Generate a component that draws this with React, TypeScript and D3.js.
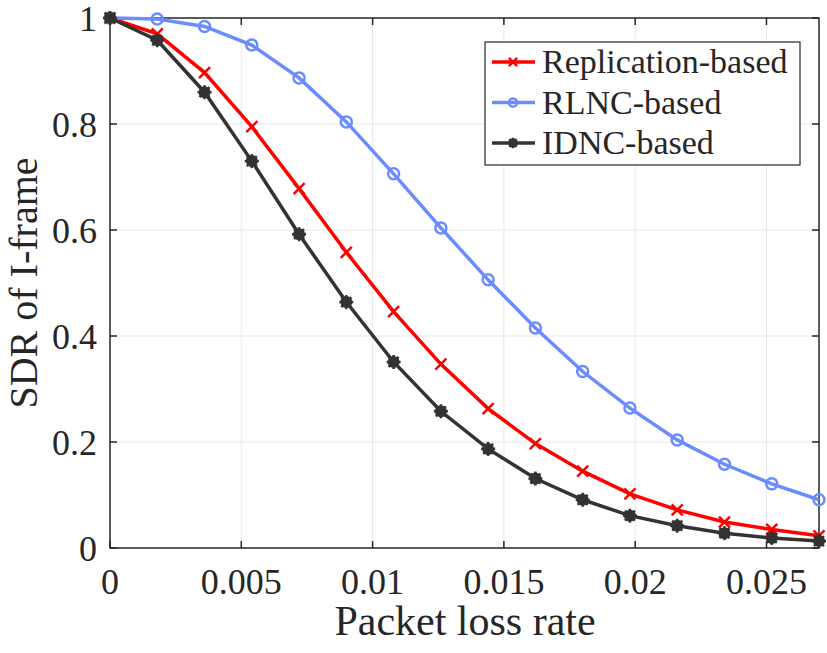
import React from "react";
import * as d3 from "d3";

const xValues = [0, 0.0018, 0.0036, 0.0054, 0.0072, 0.009, 0.0108, 0.0126, 0.0144, 0.0162, 0.018, 0.0198, 0.0216, 0.0234, 0.0252, 0.027];
const replication = [1, 0.970, 0.897, 0.795, 0.678, 0.558, 0.446, 0.347, 0.263, 0.197, 0.145, 0.102, 0.072, 0.049, 0.035, 0.023];
const rlnc = [1, 0.998, 0.984, 0.949, 0.887, 0.804, 0.706, 0.604, 0.506, 0.415, 0.333, 0.264, 0.204, 0.158, 0.121, 0.091];
const idnc = [1, 0.958, 0.860, 0.730, 0.592, 0.464, 0.351, 0.258, 0.187, 0.131, 0.091, 0.061, 0.042, 0.028, 0.019, 0.013];
const xTicks = [0, 0.005, 0.01, 0.015, 0.02, 0.025];
const xTickLabels = ["0", "0.005", "0.01", "0.015", "0.02", "0.025"];
const yTicks = [0, 0.2, 0.4, 0.6, 0.8, 1];
const yTickLabels = ["0", "0.2", "0.4", "0.6", "0.8", "1"];
const seriesNames = ["Replication-based", "RLNC-based", "IDNC-based"];

const W = 827, H = 653;
const L = 110, R = 819, T = 18, B = 548;
const FONT = "Liberation Serif, Times New Roman, serif";
const RED = "#ff0000", BLUE = "#6a8cff", BLACK = "#333333", AX = "#262626";

function Marker({ kind, x, y, color, s = 1 }: { kind: string; x: number; y: number; color: string; s?: number }) {
  if (kind === "x") {
    const h = 5.5 * s;
    return (
      <g stroke={color} strokeWidth={2.5}>
        <line x1={x - h} y1={y - h} x2={x + h} y2={y + h} />
        <line x1={x - h} y1={y + h} x2={x + h} y2={y - h} />
      </g>
    );
  }
  if (kind === "o") {
    return <circle cx={x} cy={y} r={5.5 * s} fill="none" stroke={color} strokeWidth={2.5} />;
  }
  const a = 7 * s, b = 5 * s;
  return (
    <g>
      <circle cx={x} cy={y} r={6 * s} fill={color} />
      <g stroke={color} strokeWidth={2.5}>
        <line x1={x - a} y1={y} x2={x + a} y2={y} />
        <line x1={x} y1={y - a} x2={x} y2={y + a} />
        <line x1={x - b} y1={y - b} x2={x + b} y2={y + b} />
        <line x1={x - b} y1={y + b} x2={x + b} y2={y - b} />
      </g>
    </g>
  );
}

export default function App() {
  const xs = d3.scaleLinear().domain([0, 0.027]).range([L, R]);
  const ys = d3.scaleLinear().domain([0, 1]).range([B, T]);
  const line = d3.line<number>().x((_, i) => xs(xValues[i])).y((d) => ys(d));
  const series = [
    { name: seriesNames[0], data: replication, color: RED, kind: "x" },
    { name: seriesNames[1], data: rlnc, color: BLUE, kind: "o" },
    { name: seriesNames[2], data: idnc, color: BLACK, kind: "*" },
  ];
  const lgX = 485, lgY = 42, lgW = 315, lgH = 123;
  return (
    <svg width={W} height={H} style={{ position: "absolute", left: 0, top: 0, background: "#fff", fontFamily: FONT }}>
      <rect x={0} y={0} width={W} height={H} fill="#fff" />
      {xTicks.slice(1).map((t) => (
        <line key={"gx" + t} x1={xs(t)} x2={xs(t)} y1={T} y2={B} stroke="#e8e8e8" strokeWidth={1} />
      ))}
      {yTicks.slice(1, -1).map((t) => (
        <line key={"gy" + t} x1={L} x2={R} y1={ys(t)} y2={ys(t)} stroke="#e8e8e8" strokeWidth={1} />
      ))}
      <rect x={L} y={T} width={R - L} height={B - T} fill="none" stroke={AX} strokeWidth={1.5} />
      {xTicks.map((t) => (
        <g key={"tx" + t}>
          <line x1={xs(t)} x2={xs(t)} y1={B} y2={B - 7} stroke={AX} strokeWidth={1.5} />
          <line x1={xs(t)} x2={xs(t)} y1={T} y2={T + 7} stroke={AX} strokeWidth={1.5} />
        </g>
      ))}
      {yTicks.map((t) => (
        <g key={"ty" + t}>
          <line x1={L} x2={L + 7} y1={ys(t)} y2={ys(t)} stroke={AX} strokeWidth={1.5} />
          <line x1={R} x2={R - 7} y1={ys(t)} y2={ys(t)} stroke={AX} strokeWidth={1.5} />
        </g>
      ))}
      {xTicks.map((t, i) => (
        <text key={"lx" + t} x={xs(t)} y={594} textAnchor="middle" fontSize={36} fill={AX} style={{ fontFamily: FONT }}>
          {xTickLabels[i]}
        </text>
      ))}
      {yTicks.map((t, i) => (
        <text key={"ly" + t} x={L - 13} y={ys(t) + 13} textAnchor="end" fontSize={36} fill={AX} style={{ fontFamily: FONT }}>
          {yTickLabels[i]}
        </text>
      ))}
      <text x={465} y={635} textAnchor="middle" fontSize={42} fill={AX} style={{ fontFamily: FONT }}>Packet loss rate</text>
      <text transform={`translate(37, ${(T + B) / 2}) rotate(-90)`} textAnchor="middle" fontSize={40} fill={AX} style={{ fontFamily: FONT }}>SDR of I-frame</text>
      {series.map((s) => (
        <g key={s.name}>
          <path d={line(s.data) || ""} fill="none" stroke={s.color} strokeWidth={3.5} />
          {s.data.map((v, i) => (
            <Marker key={i} kind={s.kind} x={xs(xValues[i])} y={ys(v)} color={s.color} />
          ))}
        </g>
      ))}
      <rect x={lgX} y={lgY} width={lgW} height={lgH} fill="#fff" stroke={AX} strokeWidth={1.2} />
      {series.map((s, i) => {
        const cy = lgY + 20 + i * 40.5;
        return (
          <g key={"lg" + s.name}>
            <line x1={lgX + 7} x2={lgX + 50} y1={cy} y2={cy} stroke={s.color} strokeWidth={3.5} />
            <Marker kind={s.kind} x={lgX + 28} y={cy} color={s.color} s={0.75} />
            <text x={lgX + 57} y={cy + 11} fontSize={34} fill={AX} style={{ fontFamily: FONT }}>{s.name}</text>
          </g>
        );
      })}
    </svg>
  );
}
